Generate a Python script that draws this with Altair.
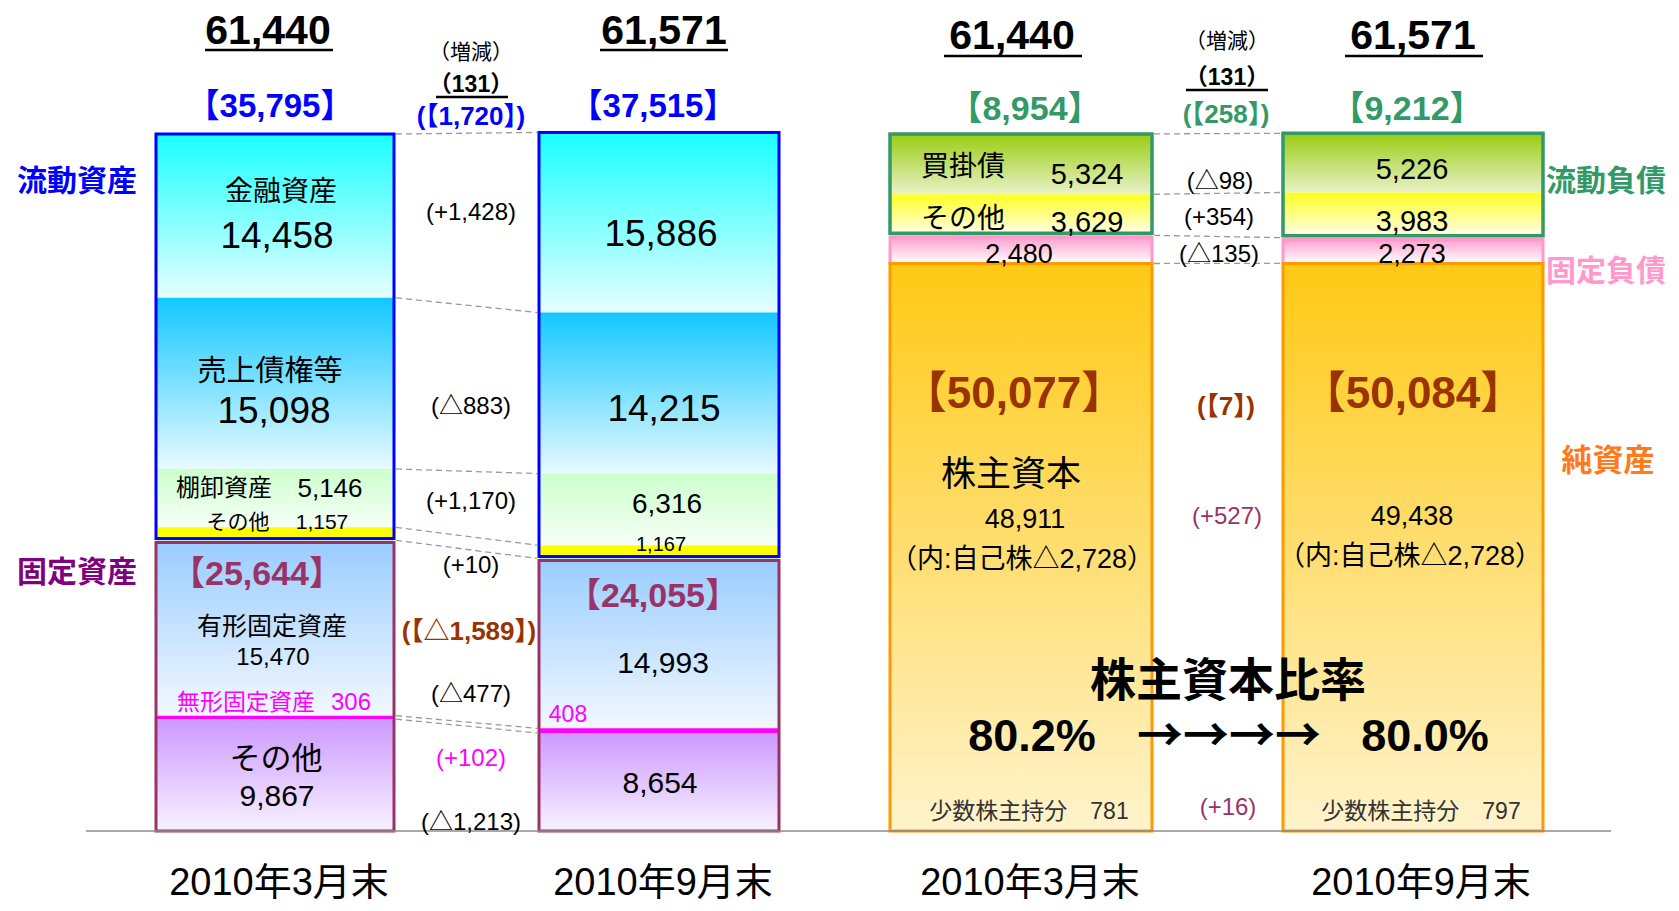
import altair as alt
import pandas as pd

# ---------------- data ----------------
periods = ["2010年3月末", "2010年9月末"]
totals = [61440, 61571]
total_change = 131

asset_items = ["金融資産", "売上債権等", "棚卸資産", "その他流動資産",
               "有形固定資産", "無形固定資産", "その他固定資産"]
assets_mar = [14458, 15098, 5146, 1157, 15470, 306, 9867]
assets_sep = [15886, 14215, 6316, 1167, 14993, 408, 8654]
asset_changes = [1428, -883, 1170, 10, -477, 102, -1213]
current_assets = [35795, 37515]
fixed_assets = [25644, 24055]
current_assets_change = 1720
fixed_assets_change = -1589

liab_items = ["買掛債", "その他流動負債", "固定負債", "純資産"]
liab_mar = [5324, 3629, 2480, 50077]
liab_sep = [5226, 3983, 2273, 50084]
liab_changes = [-98, 354, -135]
current_liab = [8954, 9212]
current_liab_change = 258
net_assets = [50077, 50084]
net_assets_change = 7
shareholders_equity = [48911, 49438]
shareholders_equity_change = 527
treasury_stock = [-2728, -2728]
minority = [781, 797]
minority_change = 16
equity_ratio = [80.2, 80.0]

# ---------------- layout ----------------
W, H = 1663, 895
BASE_PX, TOP_PX = 831, 134
K = (BASE_PX - TOP_PX) / sum(assets_mar)


def yv(py):
    return (BASE_PX - py) / K


def xv(px):
    return px - 8


xs = alt.Scale(domain=[0, W], nice=False, zero=False)
ys = alt.Scale(domain=[yv(8 + H), yv(8)], nice=False, zero=False)

BAR_EDGES = {"A1": (156, 394), "A2": (539, 779), "L1": (890, 1152), "L2": (1283, 1543)}

FONT = "Liberation Sans, Arial, Noto Sans CJK JP, sans-serif"
CJK = "Noto Sans CJK JP, sans-serif"
BLUE, PURPLE, MAUVE, MAGENTA = "#0000FF", "#800080", "#993366", "#FF00FF"
BROWN, GREEN, PINK, ORANGE = "#993300", "#339966", "#FF99CC", "#FF7A1A"

GRAD = {
    "金融資産": ("#19FFFF", "#E6FFFF"),
    "売上債権等": ("#12C8FF", "#E8FAFF"),
    "棚卸資産": ("#CCFFCC", "#F7FFF7"),
    "その他流動資産": ("#FFFF00", "#FFFF00"),
    "有形固定資産": ("#99CCFF", "#F2F8FF"),
    "無形固定資産": ("#FF00FF", "#FF00FF"),
    "その他固定資産": ("#CC99FF", "#F8F2FF"),
    "買掛債": ("#99CC11", "#E9F2C8"),
    "その他流動負債": ("#FFFF22", "#FFFFF2"),
    "固定負債": ("#FF99CC", "#FFFFFF"),
    "純資産": ("#FFC914", "#FFF3CC"),
}

# ---------------- segments ----------------
seg_rows = []
for bar, items, vals in [("A1", asset_items, assets_mar), ("A2", asset_items, assets_sep),
                         ("L1", liab_items, liab_mar), ("L2", liab_items, liab_sep)]:
    l, r = BAR_EDGES[bar]
    cum = 0
    for item, v in reversed(list(zip(items, vals))):
        seg_rows.append(dict(bar=bar, item=item, y0=cum, y1=cum + v, x0=xv(l), x1=xv(r)))
        cum += v
seg = pd.DataFrame(seg_rows)

X = alt.X("x0:Q", scale=xs, axis=None)
X2 = alt.X2("x1:Q")
Y = alt.Y("y1:Q", scale=ys, axis=None)
Y2 = alt.Y2("y0:Q")

layers = []
for item, (top, bot) in GRAD.items():
    grad = alt.Gradient(gradient="linear", x1=0, y1=0, x2=0, y2=1,
                        stops=[alt.GradientStop(color=top, offset=0),
                               alt.GradientStop(color=bot, offset=1)])
    layers.append(alt.Chart(seg).transform_filter(alt.datum.item == item)
                  .mark_rect(fill=grad).encode(x=X, x2=X2, y=Y, y2=Y2))

# ---------------- group boxes ----------------
groups = {
    "current_assets": (asset_items[0:4], BLUE, 3, {"y2Offset": -2}),
    "fixed_assets": (asset_items[4:7], MAUVE, 3, {"yOffset": 2}),
    "current_liab": (liab_items[0:2], GREEN, 3.5, {"y2Offset": -2}),
    "fixed_liab": (liab_items[2:3], PINK, 3, {"yOffset": 2}),
    "net_assets": (liab_items[3:4], "#FF9900", 3, {}),
}
box_rows = []
for g, (items, *_rest) in groups.items():
    sub = seg[seg["item"].isin(items)]
    for bar, d in sub.groupby("bar"):
        box_rows.append(dict(group=g, bar=bar, x0=d.x0.iloc[0], x1=d.x1.iloc[0],
                             y0=d.y0.min(), y1=d.y1.max()))
boxes = pd.DataFrame(box_rows)
for g, (items, col, sw, off) in groups.items():
    layers.append(alt.Chart(boxes).transform_filter(alt.datum.group == g)
                  .mark_rect(fill=None, stroke=col, strokeWidth=sw, **off)
                  .encode(x=X, x2=X2, y=Y, y2=Y2))

# ---------------- dashed connectors ----------------
con_rows = []
for a, b in [("A1", "A2"), ("L1", "L2")]:
    sa = seg[seg.bar == a].sort_values("y1")
    sb = seg[seg.bar == b].sort_values("y1")
    for ya, yb in zip(sa.y1, sb.y1):
        con_rows.append(dict(x0=xv(BAR_EDGES[a][1]) + 2, x1=xv(BAR_EDGES[b][0]) - 2, ya=ya, yb=yb))
con = pd.DataFrame(con_rows)
layers.append(alt.Chart(con).mark_rule(color="#9A9A9A", strokeWidth=1.3, strokeDash=[6, 4])
              .encode(x=X, x2=X2, y=alt.Y("ya:Q", scale=ys, axis=None), y2=alt.Y2("yb:Q")))

# baseline
base = pd.DataFrame([dict(x0=xv(86), x1=xv(1611), y=0)])
layers.append(alt.Chart(base).mark_rule(color="#8C8C8C", strokeWidth=1.5)
              .encode(x=X, x2=X2, y=alt.Y("y:Q", scale=ys, axis=None)))


# ---------------- text ----------------
def n(v):
    return f"{v:,}"


def chg(v, bracket=False):
    s = ("+" if v >= 0 else "△") + f"{abs(v):,}"
    return f"(【{s.replace('+', '')}】)" if bracket else f"({s})"


A, B = "normal", "bold"
CS = 24  # size of the change figures
ann = [
    # left half – header
    (n(totals[0]), 268, 32, 41, "#000", B), (n(totals[1]), 664, 32, 41, "#000", B),
    ("（増減）", 471, 53, 21, "#000", A), (f"（{total_change}）", 471, 85, 23, "#000", B),
    (f"【{n(current_assets[0])}】", 270, 107, 33, BLUE, B),
    (f"【{n(current_assets[1])}】", 653, 107, 33, BLUE, B),
    (chg(current_assets_change, True), 471, 117, 26, BLUE, B),
    ("流動資産", 77, 182, 30, BLUE, B), ("固定資産", 77, 573, 30, PURPLE, B),
    # left bars
    ("金融資産", 281, 193, 28, "#000", A), (n(assets_mar[0]), 277, 237, 37, "#000", A),
    (n(assets_sep[0]), 661, 235, 37, "#000", A),
    ("売上債権等", 270, 372, 29, "#000", A), (n(assets_mar[1]), 274, 412, 37, "#000", A),
    (n(assets_sep[1]), 664, 410, 37, "#000", A),
    ("棚卸資産", 224, 489, 24, "#000", A), (n(assets_mar[2]), 330, 489, 26, "#000", A),
    (n(assets_sep[2]), 667, 505, 28, "#000", A),
    ("その他", 238, 523, 21, "#000", A), (n(assets_mar[3]), 322, 523, 21, "#000", A),
    (n(assets_sep[3]), 661, 545, 20, "#000", A),
    (f"【{n(fixed_assets[0])}】", 257, 575, 34, MAUVE, B),
    (f"【{n(fixed_assets[1])}】", 653, 597, 34, MAUVE, B),
    ("有形固定資産", 272, 627, 25, "#000", A), (n(assets_mar[4]), 273, 658, 24, "#000", A),
    (n(assets_sep[4]), 663, 664, 30, "#000", A),
    ("無形固定資産", 246, 703, 23, MAGENTA, A), (n(assets_mar[5]), 351, 703, 24, MAGENTA, A),
    (n(assets_sep[5]), 568, 715, 23, MAGENTA, A),
    ("その他", 276, 760, 31, "#000", A), (n(assets_mar[6]), 277, 797, 30, "#000", A),
    (n(assets_sep[6]), 660, 784, 30, "#000", A),
    # left changes
    (chg(asset_changes[0]), 471, 213, CS, "#000", A),
    (chg(asset_changes[1]), 471, 407, CS, "#000", A),
    (chg(asset_changes[2]), 471, 502, CS, "#000", A),
    (chg(asset_changes[3]), 471, 566, CS, "#000", A),
    (chg(fixed_assets_change, True), 469, 632, 26, BROWN, B),
    (chg(asset_changes[4]), 471, 695, CS, "#000", A),
    (chg(asset_changes[5]), 471, 759, CS, MAGENTA, A),
    (chg(asset_changes[6]), 471, 823, CS, "#000", A),
    (periods[0], 279, 884, 38, "#000", A), (periods[1], 663, 884, 38, "#000", A),
    # right half – header
    (n(totals[0]), 1012, 37, 41, "#000", B), (n(totals[1]), 1413, 37, 41, "#000", B),
    ("（増減）", 1227, 42, 21, "#000", A), (f"（{total_change}）", 1227, 78, 23, "#000", B),
    (f"【{n(current_liab[0])}】", 1025, 110, 34, GREEN, B),
    (f"【{n(current_liab[1])}】", 1407, 110, 34, GREEN, B),
    (chg(current_liab_change, True), 1226, 115, 26, GREEN, B),
    ("流動負債", 1606, 182, 30, GREEN, B), ("固定負債", 1606, 272, 30, PINK, B),
    ("純資産", 1608, 462, 31, ORANGE, B),
    # right bars
    ("買掛債", 963, 168, 28, "#000", A), (n(liab_mar[0]), 1087, 175, 29, "#000", A),
    ("その他", 963, 220, 28, "#000", A), (n(liab_mar[1]), 1087, 223, 29, "#000", A),
    (n(liab_sep[0]), 1412, 170, 29, "#000", A), (n(liab_sep[1]), 1412, 222, 29, "#000", A),
    (n(liab_mar[2]), 1019, 255, 27, "#000", A), (n(liab_sep[2]), 1412, 255, 27, "#000", A),
    (f"【{n(net_assets[0])}】", 1014, 395, 44, BROWN, B),
    (f"【{n(net_assets[1])}】", 1413, 395, 44, BROWN, B),
    ("株主資本", 1011, 475, 35, "#000", A),
    (n(shareholders_equity[0]), 1025, 520, 27, "#000", A),
    (n(shareholders_equity[1]), 1412, 517, 27, "#000", A),
    (f"（内:自己株△{n(abs(treasury_stock[0]))}）", 1022, 560, 27, "#000", A),
    (f"（内:自己株△{n(abs(treasury_stock[1]))}）", 1410, 557, 27, "#000", A),
    (f"少数株主持分　{minority[0]}", 1029, 812, 23, "#333", A),
    (f"少数株主持分　{minority[1]}", 1421, 812, 23, "#333", A),
    # right changes
    (chg(liab_changes[0]), 1220, 182, CS, "#000", A),
    (chg(liab_changes[1]), 1219, 218, CS, "#000", A),
    (chg(liab_changes[2]), 1219, 255, CS, "#000", A),
    (chg(net_assets_change, True), 1226, 407, 26, BROWN, B),
    (chg(shareholders_equity_change), 1227, 517, CS, MAUVE, A),
    (chg(minority_change), 1228, 808, CS, MAUVE, A),
    # equity ratio
    ("株主資本比率", 1228, 682, 46, "#000", B),
    (f"{equity_ratio[0]:.1f}%", 1032, 737, 45, "#000", B),
    (f"{equity_ratio[1]:.1f}%", 1425, 737, 45, "#000", B),
    (periods[0], 1030, 884, 38, "#000", A), (periods[1], 1421, 884, 38, "#000", A),
]
txt = pd.DataFrame([dict(text=t, x=xv(x), y=yv(y), size=s, color=c, weight=w)
                    for t, x, y, s, c, w in ann])

for w in [A, B]:
    layers.append(alt.Chart(txt).transform_filter(alt.datum.weight == w)
                  .mark_text(font=FONT, fontWeight=w, baseline="middle", align="center")
                  .encode(x=alt.X("x:Q", scale=xs, axis=None),
                          y=alt.Y("y:Q", scale=ys, axis=None),
                          text="text:N",
                          size=alt.Size("size:Q", scale=None, legend=None),
                          color=alt.Color("color:N", scale=None, legend=None)))

arrow = pd.DataFrame([dict(text="→→→→", x=xv(1229), y=yv(737))])
layers.append(alt.Chart(arrow).mark_text(font=CJK, fontSize=46, fontWeight="bold",
                                         baseline="middle", align="center", color="#000")
              .encode(x=alt.X("x:Q", scale=xs, axis=None),
                      y=alt.Y("y:Q", scale=ys, axis=None), text="text:N"))

# underlines
ul = pd.DataFrame([
    dict(x0=xv(205), x1=xv(333), y=yv(50)), dict(x0=xv(600), x1=xv(728), y=yv(50)),
    dict(x0=xv(944), x1=xv(1082), y=yv(56)), dict(x0=xv(1345), x1=xv(1483), y=yv(56)),
    dict(x0=xv(436), x1=xv(508), y=yv(97)), dict(x0=xv(1186), x1=xv(1268), y=yv(90)),
])
layers.append(alt.Chart(ul).mark_rule(color="#000", strokeWidth=2.5)
              .encode(x=X, x2=X2, y=alt.Y("y:Q", scale=ys, axis=None)))

chart = (alt.layer(*layers)
         .properties(width=W, height=H, padding=0,
                     autosize=alt.AutoSizeParams(type="none"), background="white")
         .configure_view(stroke=None))

chart.save("out.html", embed_options={"renderer": "svg", "actions": False})
